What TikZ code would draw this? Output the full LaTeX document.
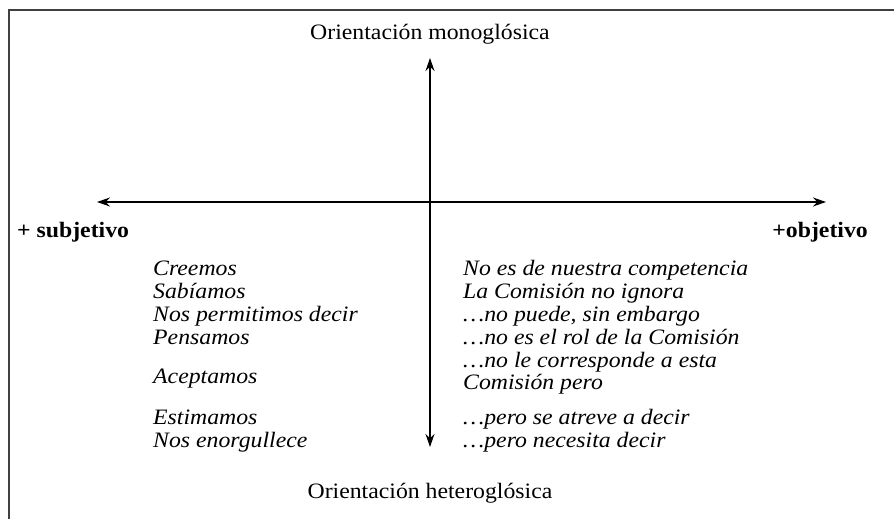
\documentclass[tikz,border=0pt]{standalone}
\usepackage{fontspec}
\setmainfont[FakeStretch=1.08]{Liberation Serif}
\usetikzlibrary{arrows.meta}
\begin{document}
\begin{tikzpicture}[x=1pt,y=-1pt,
  axis/.style={line width=1.2pt,{Stealth[length=13pt,width=9pt]}-{Stealth[length=13pt,width=9pt]}},
  frame/.style={line width=1.6pt,draw=black!75},
  lbl/.style={inner sep=0pt,font=\fontsize{22}{23}\selectfont},
  pole/.style={inner sep=0pt,font=\fontsize{22}{23}\selectfont\bfseries},
  item/.style={inner sep=0pt,anchor=base west,font=\fontsize{22}{23}\selectfont\itshape}]
\useasboundingbox (0,0) rectangle (894,519);
\coordinate (f1) at (9,519);
\coordinate (f2) at (9,10);
\coordinate (f3) at (894,10);
\draw[frame] (f1) -- (f2) -- (f3);
\coordinate (top) at (430,58);
\coordinate (bot) at (430,447);
\coordinate (lft) at (97,202);
\coordinate (rgt) at (826,202);
\draw[axis] (bot) -- (top);
\draw[axis] (lft) -- (rgt);
\node[lbl,anchor=base] (mono) at (430,40) {Orientación monoglósica};
\node[lbl,anchor=base] (hetero) at (430,498) {Orientación heteroglósica};
\node[pole,anchor=base west] (subj) at (17,237) {+ subjetivo};
\node[pole,anchor=base east] (obj) at (868,237) {+objetivo};
\node[item] (l1) at (153,275) {Creemos};
\node[item] (l2) at (153,298) {Sabíamos};
\node[item] (l3) at (153,321) {Nos permitimos decir};
\node[item] (l4) at (153,344) {Pensamos};
\node[item] (l5) at (153,383) {Aceptamos};
\node[item] (l6) at (153,424) {Estimamos};
\node[item] (l7) at (153,447) {Nos enorgullece};
\node[item] (r1) at (463,275) {No es de nuestra competencia};
\node[item] (r2) at (463,298) {La Comisión no ignora};
\node[item] (r3) at (463,321) {…no puede, sin embargo};
\node[item] (r4) at (463,344) {…no es el rol de la Comisión};
\node[item] (r5) at (463,367) {…no le corresponde a esta};
\node[item] (r6) at (463,389) {Comisión pero};
\node[item] (r7) at (463,424) {…pero se atreve a decir};
\node[item] (r8) at (463,447) {…pero necesita decir};
\end{tikzpicture}
\end{document}
